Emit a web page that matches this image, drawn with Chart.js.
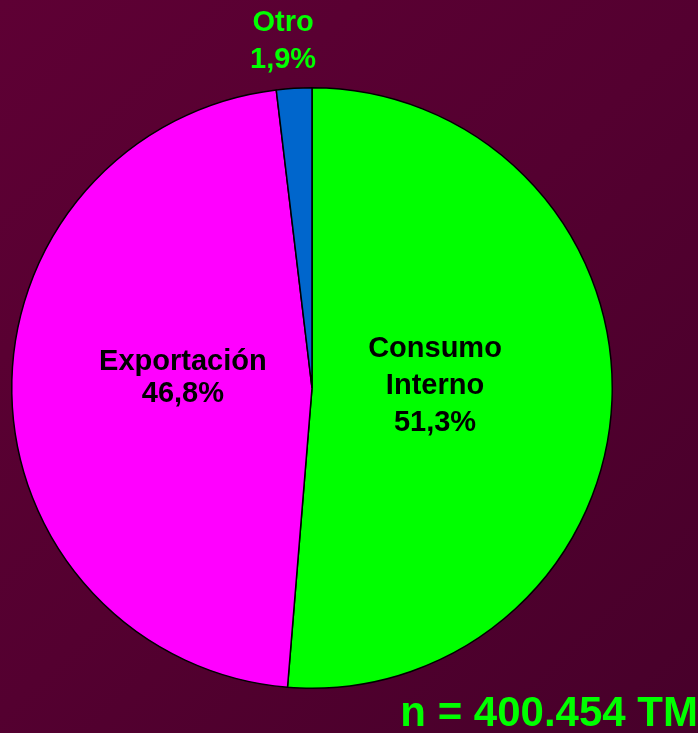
<!DOCTYPE html>
<html>
<head>
<meta charset="utf-8">
<script src="https://cdn.jsdelivr.net/npm/chart.js@4.4.0/dist/chart.umd.min.js"></script>
<style>
    html, body { margin: 0; padding: 0; }
    body {
        width: 698px; height: 733px; overflow: hidden;
        background: linear-gradient(135deg, #5e0034 0%, #540030 50%, #47002a 100%);
    }
    #wrap { position: relative; width: 698px; height: 733px; }
    #note {
        position: absolute; right: 0; bottom: 0px;
        font: bold 42px "Liberation Sans", Arial, sans-serif;
        color: #00ff00; white-space: nowrap; line-height: 1;
    }
</style>
</head>
<body>
<div id="wrap">
    <canvas id="pie-chart" width="698" height="733"></canvas>
    <div id="note">n = 400.454 TM</div>
</div>
<script>
    // Data
    var categories = ["Consumo Interno", "Exportación", "Otro"];
    var shares = [51.3, 46.8, 1.9];
    var sliceColors = ["#00ff00", "#ff00ff", "#0066cc"];

    // label placement: lines, radius factor, nudge, colour, line height
    var labelStyles = [
        { lines: ["Consumo", "Interno"], r: 0.41, dx: 0, dy: -7, color: "#000000", lh: 37 },
        { lines: ["Exportación"], r: 0.43, dx: 0, dy: -12, color: "#000000", lh: 32 },
        { lines: ["Otro"], r: 1.167, dx: -8, dy: 3, color: "#00ff00", lh: 37 }
    ];

    function pct(v) {
        return v.toFixed(1).replace(".", ",") + "%";
    }

    // Slice labels
    var sliceLabels = {
        id: "sliceLabels",
        afterDatasetsDraw: function (chart) {
            var ctx = chart.ctx;
            var arcs = chart.getDatasetMeta(0).data;
            ctx.save();
            ctx.font = "bold 29px 'Liberation Sans', Arial, sans-serif";
            ctx.textAlign = "center";
            ctx.textBaseline = "middle";
            arcs.forEach(function (arc, i) {
                var st = labelStyles[i];
                var mid = (arc.startAngle + arc.endAngle) / 2;
                var r = arc.outerRadius * st.r;
                var x = arc.x + Math.cos(mid) * r + st.dx;
                var y = arc.y + Math.sin(mid) * r + st.dy;
                var lines = st.lines.concat([pct(shares[i])]);
                var top = y - (lines.length - 1) * st.lh / 2;
                ctx.fillStyle = st.color;
                lines.forEach(function (t, k) {
                    ctx.fillText(t, x, top + k * st.lh);
                });
            });
            ctx.restore();
        }
    };

    var ctx1 = document.getElementById("pie-chart").getContext("2d");
    var myChart1 = new Chart(ctx1, {
        type: "pie",
        data: {
            labels: categories,
            datasets: [{
                data: shares,
                backgroundColor: sliceColors,
                borderColor: "#000000",
                borderWidth: 1.5
            }]
        },
        options: {
            responsive: false,
            animation: false,
            layout: { padding: { left: 11, right: 85, top: 87, bottom: 44 } },
            plugins: {
                legend: { display: false },
                tooltip: { enabled: false }
            }
        },
        plugins: [sliceLabels]
    });
</script>
</body>
</html>
